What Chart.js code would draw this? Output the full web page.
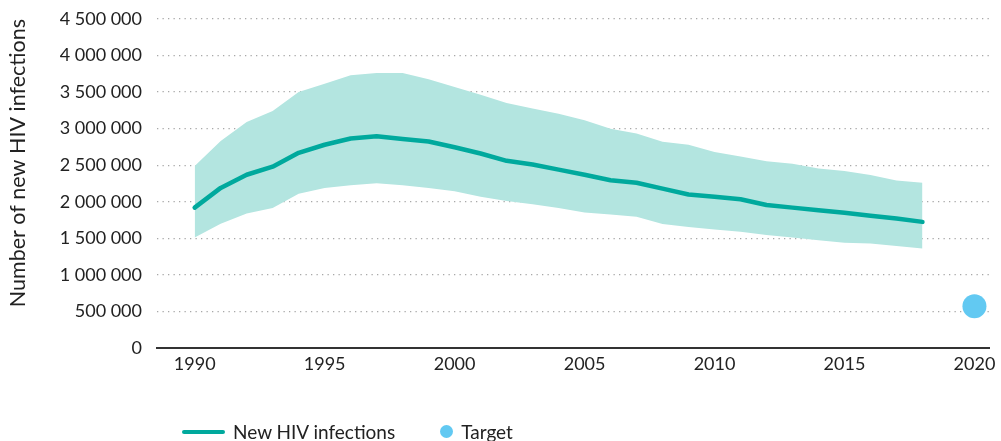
<!DOCTYPE html>
<html>
<head>
<meta charset="utf-8">
<script src="https://cdn.jsdelivr.net/npm/chart.js@4.4.1/dist/chart.umd.min.js"></script>
<style>
  html,body{margin:0;padding:0;background:#fff;overflow:hidden;}
  #wrap{position:relative;width:1001px;height:441px;}
  canvas{display:block;}
  #legend{position:absolute;left:182px;top:420px;font-family:Lato,sans-serif;font-size:19px;color:#222;display:flex;align-items:center;white-space:nowrap;}
  #legend .ln{display:inline-block;width:43px;height:4px;background:#00A99D;border-radius:2px;margin-right:8px;}
  #legend .dot{display:inline-block;width:13px;height:13px;background:#62C9F2;border-radius:50%;margin-left:45px;margin-right:8px;}
</style>
</head>
<body>
<div id="wrap">
  <canvas id="c" width="1001" height="441"></canvas>
  <div id="legend"><span class="ln"></span><span>New HIV infections</span><span class="dot"></span><span>Target</span></div>
</div>
<script>
'use strict';
// ── DATA ──────────────────────────────────────────────────────
const years = [1990,1991,1992,1993,1994,1995,1996,1997,1998,1999,2000,2001,2002,2003,2004,
  2005,2006,2007,2008,2009,2010,2011,2012,2013,2014,2015,2016,2017,2018];
const infections = [1920000,2190000,2370000,2480000,2670000,2780000,2865000,2895000,2860000,2825000,
  2745000,2660000,2560000,2510000,2440000,2370000,2295000,2260000,2180000,2100000,2070000,2035000,
  1955000,1920000,1885000,1850000,1810000,1770000,1725000];
const upperBound = [2490000,2830000,3090000,3240000,3500000,3615000,3730000,3760000,3760000,3675000,
  3570000,3465000,3350000,3275000,3205000,3115000,3000000,2935000,2820000,2780000,2680000,2620000,
  2555000,2520000,2455000,2420000,2365000,2290000,2260000];
const lowerBound = [1510000,1700000,1840000,1915000,2110000,2190000,2225000,2255000,2225000,2190000,
  2145000,2070000,2010000,1965000,1915000,1855000,1825000,1795000,1695000,1655000,1620000,1590000,
  1545000,1510000,1475000,1440000,1430000,1395000,1360000];
const targetYear = 2020;
const targetValue = 570000;
const xTicks = [1990,1995,2000,2005,2010,2015,2020];

// ── FORMAT ────────────────────────────────────────────────────
const fnum = v => String(v).replace(/\B(?=(\d{3})+(?!\d))/g,' ');
const pts = arr => arr.map((v,i)=>({x:years[i],y:v}));

const TEAL='#00A99D', BAND='#B3E5E0', BLUE='#62C9F2';
const font = {family:'Lato',size:18};

new Chart(document.getElementById('c').getContext('2d'),{
  type:'line',
  data:{
    datasets:[
      {data:pts(upperBound),borderWidth:0,pointRadius:0,backgroundColor:BAND,fill:'+1',order:3},
      {data:pts(lowerBound),borderWidth:0,pointRadius:0,backgroundColor:BAND,fill:false,order:3},
      {data:pts(infections),borderColor:TEAL,borderWidth:4.5,pointRadius:0,fill:false,tension:0,order:2,
       borderCapStyle:'round',borderJoinStyle:'round'},
      {type:'scatter',data:[{x:targetYear,y:targetValue}],pointRadius:12,pointHoverRadius:12,
       backgroundColor:BLUE,borderWidth:0,order:1}
    ]
  },
  options:{
    responsive:false,
    animation:false,
    events:[],
    layout:{padding:{top:19,right:1,bottom:50,left:0}},
    plugins:{legend:{display:false},tooltip:{enabled:false}},
    scales:{
      x:{
        type:'linear',min:1988.55,max:2020.56,
        afterBuildTicks:s=>{s.ticks=xTicks.map(v=>({value:v}));},
        afterFit:s=>{s.height=43;s.paddingLeft=0;s.paddingRight=0;},
        grid:{display:false,drawTicks:false},
        border:{display:true,color:'#333',width:2},
        ticks:{color:'#222',font,padding:5,maxRotation:0,callback:v=>String(v)}
      },
      y:{
        min:0,max:4500000,
        afterFit:s=>{s.width=157;s.paddingTop=0;s.paddingBottom=0;},
        grid:{color:'#a8a8a8',lineWidth:1.3,drawTicks:false},
        border:{display:false,dash:[1.3,4.2]},
        ticks:{stepSize:500000,color:'#222',font,padding:15,callback:v=>fnum(v)},
        title:{display:true,text:'Number of new HIV infections',color:'#222',align:'end',
          font:{family:'Lato',size:21.5},padding:{top:5,bottom:0}}
      }
    }
  }
});
</script>
</body>
</html>
